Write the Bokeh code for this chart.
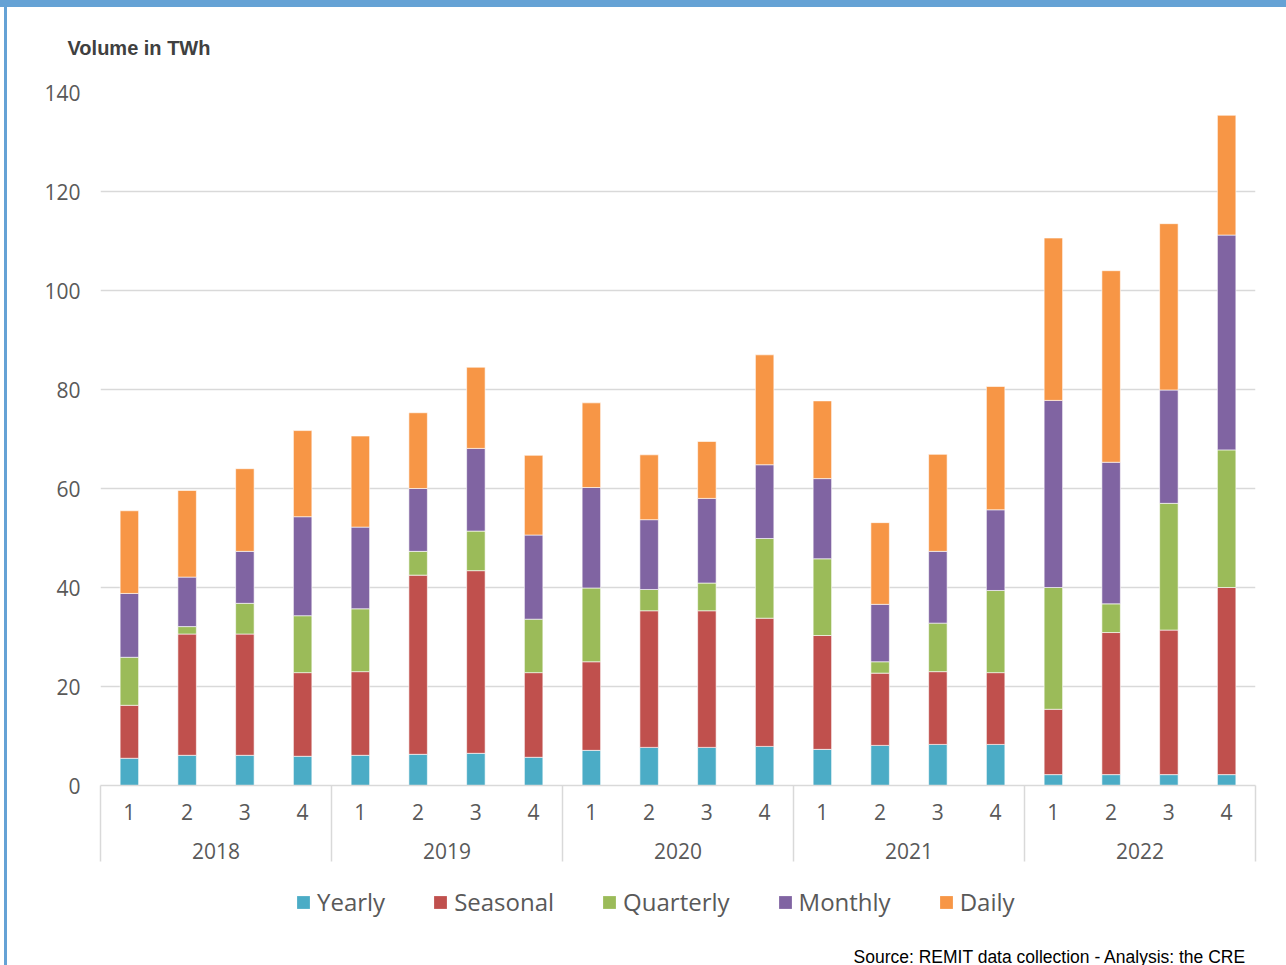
from bokeh.plotting import figure
from bokeh.layouts import column
from bokeh.models import (ColumnDataSource, Range1d, LinearAxis, FixedTicker,
                          Legend, Label, Title)
from bokeh.embed import file_html
from bokeh.resources import INLINE

# Traded volumes per quarter, by product type (TWh)
years = ["2018", "2019", "2020", "2021", "2022"]
quarters = ["1", "2", "3", "4"]
yearly = [5.5, 6.1, 6.1, 5.9, 6.1, 6.3, 6.5, 5.7, 7.1, 7.7, 7.7, 7.9,
          7.3, 8.1, 8.3, 8.3, 2.2, 2.2, 2.2, 2.2]
seasonal = [10.7, 24.5, 24.5, 16.9, 16.9, 36.2, 36.9, 17.1, 17.9, 27.6, 27.6, 25.9,
            23.0, 14.6, 14.7, 14.5, 13.2, 28.7, 29.2, 37.8]
quarterly = [9.7, 1.5, 6.2, 11.5, 12.7, 4.8, 8.0, 10.8, 14.9, 4.3, 5.6, 16.1,
             15.5, 2.3, 9.8, 16.6, 24.6, 5.8, 25.6, 27.8]
monthly = [12.9, 10.0, 10.5, 20.0, 16.5, 12.7, 16.7, 17.0, 20.3, 14.1, 17.1, 14.9,
           16.2, 11.6, 14.5, 16.3, 37.8, 28.6, 22.9, 43.4]
daily = [16.7, 17.5, 16.7, 17.4, 18.4, 15.3, 16.4, 16.1, 17.1, 13.1, 11.5, 22.2,
         15.7, 16.5, 19.6, 24.9, 32.8, 38.7, 33.6, 24.2]
series = ["Yearly", "Seasonal", "Quarterly", "Monthly", "Daily"]
colors = ["#4BACC6", "#C0504D", "#9BBB59", "#8064A2", "#F79646"]
y_ticks = [0, 20, 40, 60, 80, 100, 120, 140]

n = len(years) * len(quarters)
centers = [i + 0.5 for i in range(n)]
boundaries = [4 * k for k in range(len(years) + 1)]
year_centers = [4 * k + 2 for k in range(len(years))]
source = ColumnDataSource(dict(x=centers, Yearly=yearly, Seasonal=seasonal,
                               Quarterly=quarterly, Monthly=monthly, Daily=daily))

GRID = "#d9d9d9"
LABEL = "#595959"
FONT = "Open Sans"

# ---- main chart -------------------------------------------------------------
p = figure(width=1286, height=870, frame_width=1155, frame_height=693,
           output_backend="svg", toolbar_location=None,
           x_range=Range1d(0, n), y_range=Range1d(0, 140),
           x_axis_location=None,
           min_border_left=100, min_border_right=31,
           min_border_top=91, min_border_bottom=86)
p.outline_line_color = None
p.background_fill_color = "white"
p.border_fill_color = "white"

# axis title, top left
p.title = Title(text="Volume in TWh", align="left", offset=-33, standoff=68,
                text_font="Liberation Sans", text_font_style="bold",
                text_font_size="20px", text_color="#404040")

p.vbar_stack(series, x="x", width=0.32, source=source, color=colors,
             line_color="white", line_width=0.6)

# y axis: labels only, light horizontal gridlines
p.yaxis.ticker = FixedTicker(ticks=y_ticks, minor_ticks=[])
p.yaxis.axis_line_color = None
p.yaxis.major_tick_line_color = None
p.yaxis.minor_tick_line_color = None
p.yaxis.major_label_text_font = FONT
p.yaxis.major_label_text_font_size = "21px"
p.yaxis.major_label_text_color = LABEL
p.yaxis.major_label_standoff = 14
p.ygrid.grid_line_color = GRID
p.ygrid.grid_line_width = 1.5
p.xgrid.visible = False

# x axis, level 1: quarter numbers
q_axis = LinearAxis(
    ticker=FixedTicker(ticks=centers, minor_ticks=[]),
    major_label_overrides={c: quarters[i % 4] for i, c in enumerate(centers)},
    axis_line_color=GRID, axis_line_width=1.5,
    major_tick_line_color=None, minor_tick_line_color=None,
    major_label_standoff=12,
    major_label_text_font=FONT, major_label_text_font_size="21px",
    major_label_text_color=LABEL)
p.add_layout(q_axis, "below")

# x axis, level 2: years
yr_axis = LinearAxis(
    ticker=FixedTicker(ticks=year_centers, minor_ticks=[]),
    major_label_overrides={c: years[i] for i, c in enumerate(year_centers)},
    axis_line_color=None, major_tick_line_color=None, minor_tick_line_color=None,
    major_label_standoff=14,
    major_label_text_font=FONT, major_label_text_font_size="21px",
    major_label_text_color=LABEL)
p.add_layout(yr_axis, "below")

# year separators: ticks reaching back up to the category axis line
sep_axis = LinearAxis(
    ticker=FixedTicker(ticks=[], minor_ticks=boundaries),
    axis_line_color=None, major_tick_line_color=None,
    minor_tick_line_color=GRID, minor_tick_line_width=1.5,
    minor_tick_in=76, minor_tick_out=0,
    major_label_standoff=0, major_label_text_font_size="0px")
p.add_layout(sep_axis, "below")

# ---- legend strip and source note (frame lines up with the chart frame) ------
foot = figure(width=1286, height=95, output_backend="svg", toolbar_location=None,
              x_range=Range1d(100, 1255), y_range=Range1d(0, 95),
              x_axis_location=None, y_axis_location=None,
              min_border=0)
foot.outline_line_color = None
foot.grid.visible = False

# legend keys: one zero-height bar per series, so only the swatch shows
swatches = [foot.vbar(x=[100], top=[0], bottom=[0], width=0, fill_color=col,
                      line_color=None)
            for col in colors]

legend = Legend(items=[(name, [r]) for name, r in zip(series, swatches)],
                orientation="horizontal", location=(195, 48),
                glyph_width=16, glyph_height=16, label_standoff=6, spacing=47,
                padding=0, margin=0, border_line_color=None,
                background_fill_alpha=0,
                label_text_font=FONT, label_text_font_size="24px",
                label_text_color=LABEL)
foot.add_layout(legend, "center")

foot.add_layout(Label(x=853, y=10, text="Source: REMIT data collection - Analysis: the CRE",
                      text_font="Liberation Sans", text_font_size="17.5px",
                      text_baseline="middle", text_color="black"))

layout = column(p, foot, spacing=0)

html = file_html(layout, INLINE)
# page frame: blue header strip and left rule
frame_css = ("<style>"
             "body::before{content:'';position:fixed;left:0;top:0;width:100%;"
             "height:7px;background:#65A2D5;z-index:10;}"
             "body::after{content:'';position:fixed;left:4px;top:0;width:3px;"
             "height:100%;background:#65A2D5;z-index:10;}"
             "</style>")
html = html.replace("</head>", frame_css + "</head>", 1)
open("out.html", "w").write(html)
